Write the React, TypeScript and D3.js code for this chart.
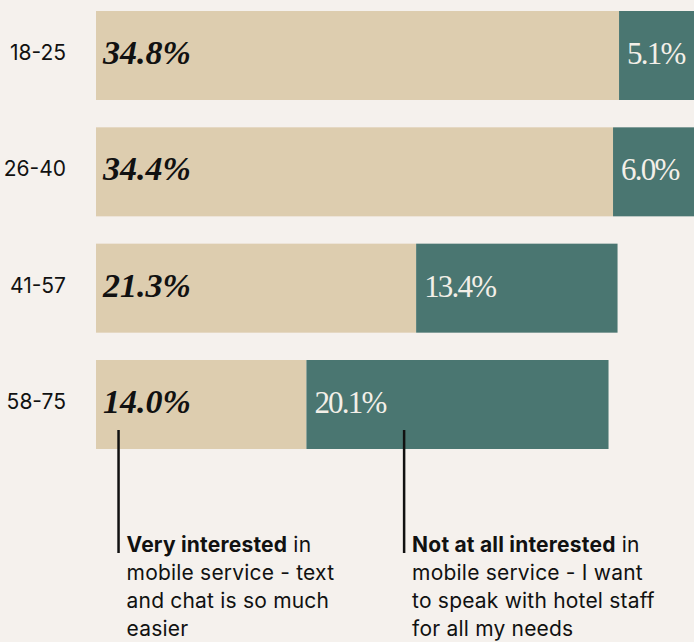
import React from 'react'
import * as d3 from 'd3'

const ages = ['18-25', '26-40', '41-57', '58-75']
const veryInterested = [34.8, 34.4, 21.3, 14.0]
const notInterested = [5.1, 6.0, 13.4, 20.1]

const notes = [
  { at: 1.5, bold: 'Very interested', lines: [' in', 'mobile service - text', 'and chat is so much', 'easier'] },
  { at: 20.5, bold: 'Not at all interested', lines: [' in', 'mobile service - I want', 'to speak with hotel staff', 'for all my needs'] },
]

const width = 694
const height = 642

const bg = '#f5f1ed'
const tan = '#ddcdaf'
const teal = '#4a7671'

export default function App() {
  const x = d3.scaleLinear().domain([0, 1]).range([96, 96 + 15.03])
  const y = d3.scaleBand().domain(ages).range([11, 449]).paddingInner(0.235)

  const sans = 'Inter, Roboto, sans-serif'
  const serif = '"Liberation Serif", "DejaVu Serif", serif'

  const last = ages[ages.length - 1]
  const lineTop = (y(last) as number) + y.bandwidth() - 19

  return (
    <div style={{ position: 'fixed', left: 0, top: 0 }}>
      <svg width={width} height={height} style={{ display: 'block', background: bg }}>
        <rect width={width} height={height} fill={bg} />
        {ages.map((age, i) => {
          const y0 = y(age) as number
          const cy = y0 + y.bandwidth() / 2
          const v1 = veryInterested[i]
          const v2 = notInterested[i]
          return (
            <g key={age}>
              <text x={66} y={cy + 4.5} textAnchor="end" fontFamily={sans} fontSize={21} fill="#111">
                {age}
              </text>
              <rect x={x(0)} y={y0} width={x(v1) - x(0)} height={y.bandwidth()} fill={tan} />
              <rect x={x(v1)} y={y0} width={x(v1 + v2) - x(v1)} height={y.bandwidth()} fill={teal} />
              <text x={x(0) + 7} y={cy + 8.5} fontFamily={serif} fontSize={34} fontWeight="bold" fontStyle="italic" fill="#111">
                {v1.toFixed(1) + '%'}
              </text>
              <text x={x(v1) + 8} y={cy + 8.5} fontFamily={serif} fontSize={31} letterSpacing={-1.8} fill="#f3efe8">
                {v2.toFixed(1) + '%'}
              </text>
            </g>
          )
        })}
        {notes.map((n) => {
          const lx = x(n.at)
          return (
            <g key={n.bold}>
              <line x1={lx} x2={lx} y1={lineTop} y2={553} stroke="#111" strokeWidth={2.5} />
              {n.lines.map((t, j) => (
                <text key={j} x={lx + 8} y={552 + j * 28} fontFamily={sans} fontSize={21} letterSpacing={0.2} fill="#111">
                  {j === 0 ? <tspan fontWeight="bold">{n.bold}</tspan> : null}
                  {t}
                </text>
              ))}
            </g>
          )
        })}
      </svg>
    </div>
  )
}
